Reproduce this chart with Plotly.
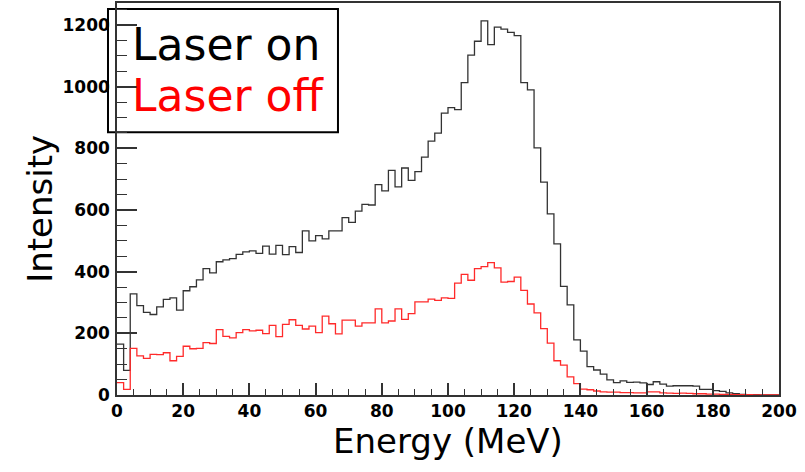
import plotly.graph_objects as go

# Energy binning: 100 bins of 2 MeV from 0 to 200 MeV
bin_width = 2
n_bins = 100
bin_edges = [i * bin_width for i in range(n_bins + 1)]

# Counts per bin, laser on
laser_on = [
    165, 80, 328, 290, 268, 261, 286, 310, 315, 275,
    338, 351, 373, 410, 396, 432, 438, 442, 456, 464,
    467, 459, 483, 457, 485, 455, 481, 462, 532, 500,
    517, 506, 532, 532, 575, 560, 596, 618, 616, 682,
    662, 728, 675, 736, 696, 724, 771, 823, 849, 914,
    932, 925, 1013, 1102, 1147, 1213, 1136, 1193, 1186, 1176,
    1165, 1013, 989, 801, 690, 587, 490, 352, 292, 179,
    142, 92, 81, 68, 49, 40, 46, 41, 42, 39,
    34, 43, 35, 29, 30, 30, 30, 29, 18, 18,
    14, 12, 7, 4, 2, 1, 1, 0, 0, 0,
]

# Counts per bin, laser off
laser_off = [
    40, 18, 151, 127, 119, 132, 131, 137, 111, 125,
    158, 150, 151, 170, 167, 212, 190, 185, 202, 212,
    208, 210, 199, 226, 189, 229, 244, 226, 214, 223,
    202, 256, 231, 198, 243, 243, 223, 234, 234, 279,
    234, 240, 279, 245, 264, 302, 302, 311, 307, 315,
    313, 363, 391, 372, 410, 416, 429, 412, 366, 368,
    382, 339, 295, 266, 215, 168, 111, 97, 59, 37,
    19, 17, 13, 10, 9, 9, 8, 8, 7, 7,
    10, 10, 7, 6, 5, 6, 5, 4, 4, 3,
    3, 2, 2, 1, 1, 1, 0, 0, 0, 0,
]

x_ticks = list(range(0, 201, 20))
y_ticks = list(range(0, 1201, 200))

series_names = ["Laser on", "Laser off"]
series_colors = ["#333333", "#ff2a2a"]

fig = go.Figure()
for name, counts, color in zip(series_names, [laser_on, laser_off], series_colors):
    fig.add_trace(go.Scatter(
        x=bin_edges,
        y=counts + [counts[-1]],
        mode="lines",
        line=dict(shape="hv", color=color, width=1.3),
        name=name,
        showlegend=False,
        hoverinfo="skip",
    ))

tick_font = dict(family="DejaVu Sans", size=17, color="black", weight="bold")
axis_color = "#333333"

fig.update_xaxes(
    range=[0, 200],
    tickvals=x_ticks,
    ticktext=[str(v) for v in x_ticks],
    ticks="inside", ticklen=12, tickwidth=1.5, tickcolor=axis_color,
    minor=dict(ticks="inside", ticklen=6, dtick=5, tickwidth=1.2, tickcolor=axis_color),
    showgrid=False, zeroline=False,
    showline=True, linecolor=axis_color, linewidth=1.5, mirror=True,
    tickfont=tick_font,
)
fig.update_yaxes(
    range=[0, 1271],
    tickvals=y_ticks,
    ticktext=[str(v) for v in y_ticks],
    ticks="inside", ticklen=20, tickwidth=1.5, tickcolor=axis_color,
    minor=dict(ticks="inside", ticklen=10, dtick=50, tickwidth=1.2, tickcolor=axis_color),
    showgrid=False, zeroline=False,
    showline=True, linecolor=axis_color, linewidth=1.5, mirror=True,
    tickfont=tick_font,
    ticklabelstandoff=2,
)

title_font = dict(family="DejaVu Sans", size=34, color="black")
legend_font_size = 44

fig.update_layout(
    width=805, height=472,
    margin=dict(l=117, r=26, t=1, b=77),
    paper_bgcolor="white", plot_bgcolor="white",
    shapes=[
        dict(type="rect", xref="paper", yref="paper",
             x0=-0.0136, x1=0.3338, y0=0.670, y1=0.9848,
             line=dict(color="black", width=2), fillcolor="white", layer="below"),
    ],
    annotations=[
        dict(text="Energy (MeV)", xref="paper", yref="paper", x=0.5, y=-0.117,
             xanchor="center", yanchor="middle", showarrow=False, font=title_font),
        dict(text="Intensity", xref="paper", yref="paper", x=-0.1163, y=0.475,
             xanchor="center", yanchor="middle", textangle=-90, showarrow=False,
             font=title_font),
        dict(text=series_names[0], xref="paper", yref="paper", x=0.02, y=0.893,
             xanchor="left", yanchor="middle", showarrow=False,
             font=dict(family="DejaVu Sans", size=legend_font_size, color="black")),
        dict(text=series_names[1], xref="paper", yref="paper", x=0.02, y=0.763,
             xanchor="left", yanchor="middle", showarrow=False,
             font=dict(family="DejaVu Sans", size=legend_font_size, color="red")),
    ],
)

fig.write_html("out.html")
